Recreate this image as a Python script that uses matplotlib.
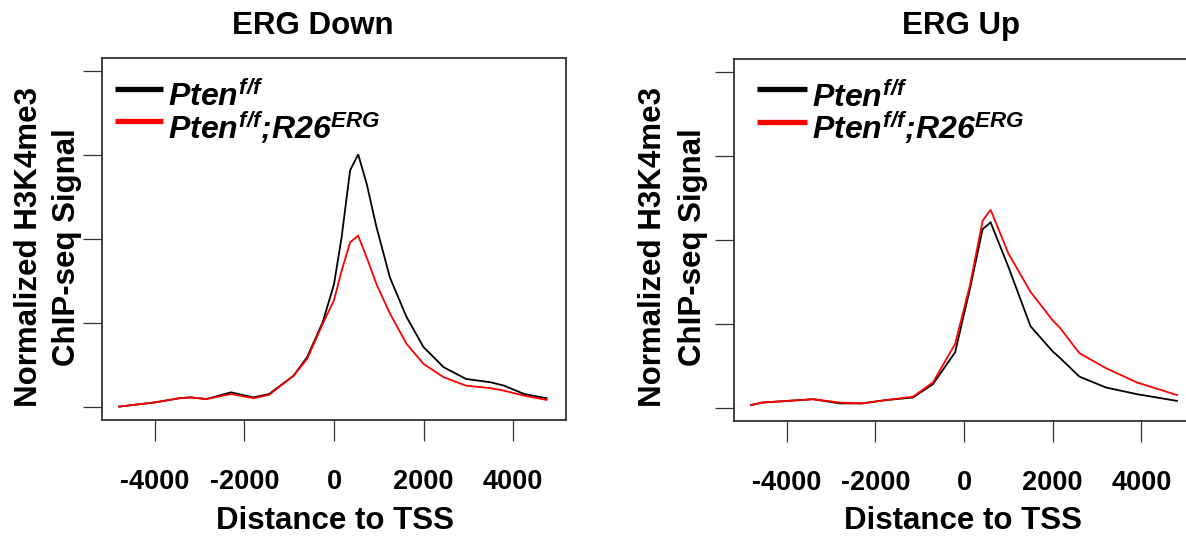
import matplotlib
matplotlib.use("Agg")
import matplotlib.pyplot as plt

plt.rcParams['font.family'] = ['Liberation Sans', 'DejaVu Sans']
plt.rcParams['font.weight'] = 'bold'
plt.rcParams['mathtext.fontset'] = 'custom'
plt.rcParams['mathtext.it'] = 'Liberation Sans:italic:bold'
plt.rcParams['mathtext.rm'] = 'Liberation Sans:italic:bold'
plt.rcParams['mathtext.bf'] = 'Liberation Sans:italic:bold'
plt.rcParams['mathtext.sf'] = 'Liberation Sans:italic:bold'

# ---------------- data ----------------
titles = ["ERG Down", "ERG Up"]
series_labels = [r"$Pten^{f/f}$", r"$Pten^{f/f};\hspace{-0.2}R26^{ERG}$"]
series_colors = ["#000000", "#ff0000"]
x_ticks = [-4000, -2000, 0, 2000, 4000]
y_ticks = [0, 1, 2, 3, 4]

x_down = [-4800, -4000, -3450, -3200, -2850, -2300, -1800, -1450, -900, -600, -250, 0,
          170, 360, 540, 730, 950, 1250, 1620, 2000, 2450, 2950, 3500, 3800, 4250, 4750]
down_pten = [0.00, 0.05, 0.10, 0.11, 0.09, 0.17, 0.11, 0.15, 0.37, 0.59, 1.01, 1.46,
             2.02, 2.82, 3.01, 2.66, 2.14, 1.54, 1.07, 0.71, 0.47, 0.33, 0.29, 0.25, 0.15, 0.10]
down_erg = [0.00, 0.05, 0.10, 0.11, 0.09, 0.15, 0.10, 0.14, 0.37, 0.57, 0.99, 1.27,
            1.62, 1.96, 2.04, 1.78, 1.46, 1.11, 0.75, 0.51, 0.35, 0.25, 0.22, 0.19, 0.13, 0.08]

x_up = [-4800, -4550, -3400, -2800, -2300, -1750, -1150, -700, -200, 130, 420, 600,
        1000, 1500, 2000, 2150, 2600, 3200, 3900, 4800]
up_pten = [0.03, 0.06, 0.10, 0.05, 0.05, 0.09, 0.12, 0.28, 0.66, 1.41, 2.13, 2.21,
           1.68, 0.97, 0.67, 0.60, 0.37, 0.24, 0.16, 0.08]
up_erg = [0.03, 0.06, 0.10, 0.06, 0.05, 0.09, 0.13, 0.30, 0.76, 1.45, 2.23, 2.36,
          1.84, 1.38, 1.04, 0.96, 0.65, 0.47, 0.30, 0.15]

panels = [(x_down, [down_pten, down_erg]), (x_up, [up_pten, up_erg])]

# ---------------- layout ----------------
W, H = 1186, 537
fig = plt.figure(figsize=(W / 100, H / 100), dpi=100)

def px_axes(l, t, r, b):
    return fig.add_axes([l / W, 1 - b / H, (r - l) / W, (b - t) / H])

ax_boxes = [(102, 58, 566, 420), (734, 59, 1194, 421)]
title_x = [313, 961]
xlabel_x = [335, 963]
ylabel_x = [(29, 67), (653, 693)]
legend_geo = [
    # (line x0, x1, y rows, text x, text baselines) in axes fraction
    (0.028, 0.131, (0.914, 0.826), 0.142, (0.868, 0.777)),
    (0.049, 0.158, (0.917, 0.827), 0.169, (0.868, 0.778)),
]

xr = (-4800, 4800)
pad = 0.04 * (xr[1] - xr[0])
yr = (0, 4)
ypad = 0.04 * (yr[1] - yr[0])

for i, (xs, ys_list) in enumerate(panels):
    ax = px_axes(*ax_boxes[i])
    for ys, c in zip(ys_list, series_colors):
        ax.plot(xs, ys, color=c, lw=1.3, solid_joinstyle='miter')
    ax.set_xlim(xr[0] - pad, xr[1] + pad)
    ax.set_ylim(yr[0] - ypad, yr[1] + ypad)
    ax.set_xticks(x_ticks)
    ax.set_xticklabels([str(v) for v in x_ticks], fontsize=19.5, fontweight='bold')
    ax.set_yticks(y_ticks)
    ax.set_yticklabels([])
    ax.tick_params(axis='x', length=15, width=0.9, pad=20, color='#333333')
    ax.tick_params(axis='y', length=14, width=0.9, color='#333333')
    for s in ax.spines.values():
        s.set_linewidth(1.3)
        s.set_color('#333333')

    # legend
    lx0, lx1, lys, tx, tys = legend_geo[i]
    for lab, c, ly, ty in zip(series_labels, series_colors, lys, tys):
        ax.plot([lx0, lx1], [ly, ly], color=c, lw=3.8, transform=ax.transAxes,
                solid_capstyle='butt', clip_on=False)
        ax.text(tx, ty, lab, transform=ax.transAxes, fontsize=23, va='baseline',
                ha='left', color='black')

    fig.text(title_x[i] / W, 1 - 34 / H, titles[i], fontsize=22.5, fontweight='bold',
             ha='center', va='baseline')
    fig.text(xlabel_x[i] / W, 1 - 529 / H, "Distance to TSS", fontsize=22.5,
             fontweight='bold', ha='center', va='baseline')
    fig.text(ylabel_x[i][0] / W, 1 - 247 / H, "Normalized H3K4me3", fontsize=22.5,
             fontweight='bold', ha='center', va='center', rotation=90)
    fig.text(ylabel_x[i][1] / W, 1 - 247 / H, "ChIP-seq Signal", fontsize=22.5,
             fontweight='bold', ha='center', va='center', rotation=90)

fig.savefig("out.png", dpi=100)
